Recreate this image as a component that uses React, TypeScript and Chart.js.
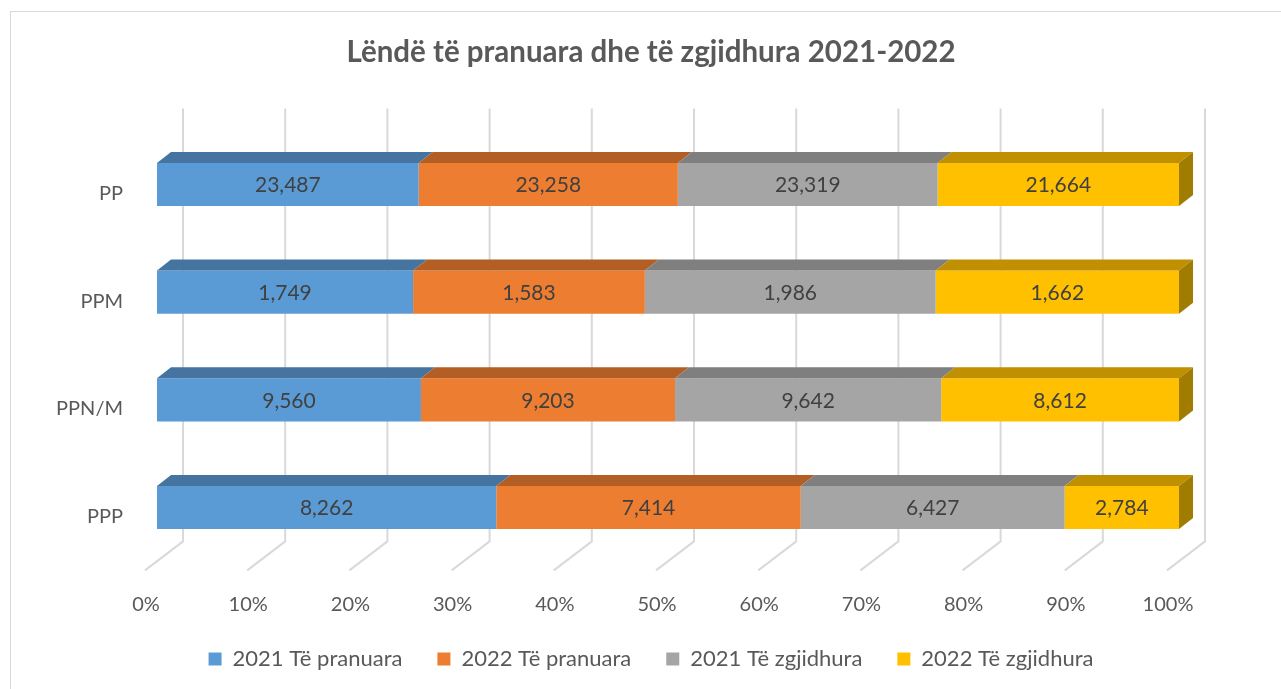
import React, { useEffect, useRef } from "react";
import { Chart, registerables } from "chart.js";

Chart.register(...registerables);

const categories = ["PP", "PPM", "PPN/M", "PPP"];
const seriesNames = ["2021 Të pranuara", "2022 Të pranuara", "2021 Të zgjidhura", "2022 Të zgjidhura"];
const pranuara2021 = [23487, 1749, 9560, 8262];
const pranuara2022 = [23258, 1583, 9203, 7414];
const zgjidhura2021 = [23319, 1986, 9642, 6427];
const zgjidhura2022 = [21664, 1662, 8612, 2784];
const xTickValues = [0, 10, 20, 30, 40, 50, 60, 70, 80, 90, 100];

const frontColors = ["#5B9BD5", "#ED7D31", "#A5A5A5", "#FFC000"];
const topColors = ["#44749F", "#B25E24", "#7F7F7F", "#C09000"];
const sideColors = ["#365C7E", "#8E4B1D", "#666666", "#A07C00"];

const FONT = "Lato, 'Noto Sans', sans-serif";
const TEXT = "#595959";
const DEPTH_DX = 14;
const DEPTH_DY = -11;

const seriesValues = [pranuara2021, pranuara2022, zgjidhura2021, zgjidhura2022];
const totals = categories.map((_, i) => seriesValues.reduce((s, arr) => s + arr[i], 0));

const threeDPlugin = {
  id: "threeD",
  beforeDatasetsDraw(chart: any) {
    const { ctx, chartArea, scales } = chart;
    const x = scales.x;
    ctx.save();
    ctx.strokeStyle = "#d9d9d9";
    ctx.lineWidth = 2;
    for (const t of xTickValues) {
      const px = x.getPixelForValue(t);
      ctx.beginPath();
      ctx.moveTo(px + 26, chartArea.top - 22);
      ctx.lineTo(px + 26, chartArea.bottom - 20);
      ctx.lineTo(px - 12, chartArea.bottom + 9);
      ctx.stroke();
    }
    ctx.restore();
  },
  afterDatasetsDraw(chart: any) {
    const { ctx } = chart;
    ctx.save();
    const n = chart.data.datasets.length;
    for (let d = 0; d < n; d++) {
      const meta = chart.getDatasetMeta(d);
      meta.data.forEach((el: any) => {
        const p = el.getProps(["x", "y", "base", "height"], true);
        const left = Math.min(p.base, p.x);
        const right = Math.max(p.base, p.x);
        const top = p.y - p.height / 2;
        const bottom = p.y + p.height / 2;
        ctx.fillStyle = topColors[d];
        ctx.beginPath();
        ctx.moveTo(left, top);
        ctx.lineTo(left + DEPTH_DX, top + DEPTH_DY);
        ctx.lineTo(right + DEPTH_DX, top + DEPTH_DY);
        ctx.lineTo(right, top);
        ctx.closePath();
        ctx.fill();
        if (d === n - 1) {
          ctx.fillStyle = sideColors[d];
          ctx.beginPath();
          ctx.moveTo(right, top);
          ctx.lineTo(right + DEPTH_DX, top + DEPTH_DY);
          ctx.lineTo(right + DEPTH_DX, bottom + DEPTH_DY);
          ctx.lineTo(right, bottom);
          ctx.closePath();
          ctx.fill();
        }
      });
    }
    ctx.fillStyle = "#404040";
    ctx.font = `21px ${FONT}`;
    ctx.textAlign = "center";
    ctx.textBaseline = "middle";
    for (let d = 0; d < n; d++) {
      const meta = chart.getDatasetMeta(d);
      meta.data.forEach((el: any, i: number) => {
        const p = el.getProps(["x", "y", "base"], true);
        const v = seriesValues[d][i];
        ctx.fillText(v.toLocaleString("en-US"), (p.base + p.x) / 2, p.y + 1);
      });
    }
    ctx.restore();
  },
};

export default function App() {
  const ref = useRef<HTMLCanvasElement | null>(null);

  useEffect(() => {
    if (!ref.current) return;
    const chart = new Chart(ref.current, {
      type: "bar",
      data: {
        labels: categories,
        datasets: seriesValues.map((arr, d) => ({
          label: seriesNames[d],
          data: arr.map((v, i) => (v / totals[i]) * 100),
          backgroundColor: frontColors[d],
          borderWidth: 0,
          categoryPercentage: 1,
          barPercentage: 0.4,
        })),
      },
      options: {
        indexAxis: "y",
        responsive: false,
        maintainAspectRatio: false,
        animation: false,
        events: [],
        layout: { padding: 0 },
        scales: {
          x: {
            stacked: true,
            min: 0,
            max: 100,
            afterBuildTicks: (scale: any) => {
              scale.ticks = xTickValues.map((v) => ({ value: v }));
            },
            afterFit: (scale: any) => {
              scale.height = 51.6;
            },
            grid: { display: false, drawTicks: false },
            border: { display: false },
            ticks: {
              autoSkip: false,
              maxRotation: 0,
              padding: 31.5,
              labelOffset: -11,
              color: TEXT,
              font: { family: FONT, size: 20 },
              callback: (v: any) => `${v}%`,
            },
          },
          y: {
            stacked: true,
            position: "left",
            afterFit: (scale: any) => {
              scale.width = 157;
            },
            grid: { display: false, drawTicks: false },
            border: { display: false },
            ticks: {
              padding: 34,
              labelOffset: 9,
              color: TEXT,
              font: { family: FONT, size: 20 },
            },
          },
          yRight: {
            type: "category",
            labels: categories,
            position: "right",
            display: true,
            afterFit: (scale: any) => {
              scale.width = 123;
            },
            grid: { display: false, drawTicks: false },
            border: { display: false },
            ticks: { display: false },
          },
        },
        plugins: {
          title: {
            display: true,
            text: "Lëndë të pranuara dhe të zgjidhura 2021-2022",
            color: TEXT,
            font: { family: FONT, size: 29.5, weight: "bold" },
            padding: { top: 34.3, bottom: 60.9 },
          },
          legend: {
            position: "bottom",
            labels: {
              boxWidth: 13,
              boxHeight: 13,
              padding: 35,
              color: TEXT,
              font: { family: FONT, size: 22 },
            },
          },
          tooltip: { enabled: false },
        },
      },
      plugins: [threeDPlugin],
    } as any);
    return () => chart.destroy();
  }, []);

  return (
    <>
      <div
        style={{
          position: "fixed",
          left: 10,
          top: 11,
          width: 1300,
          height: 700,
          border: "1px solid #d9d9d9",
          background: "#fff",
        }}
      />
      <canvas
        ref={ref}
        width={1302}
        height={680}
        style={{ position: "fixed", left: 0, top: 0, width: 1302, height: 680 }}
      />
    </>
  );
}
